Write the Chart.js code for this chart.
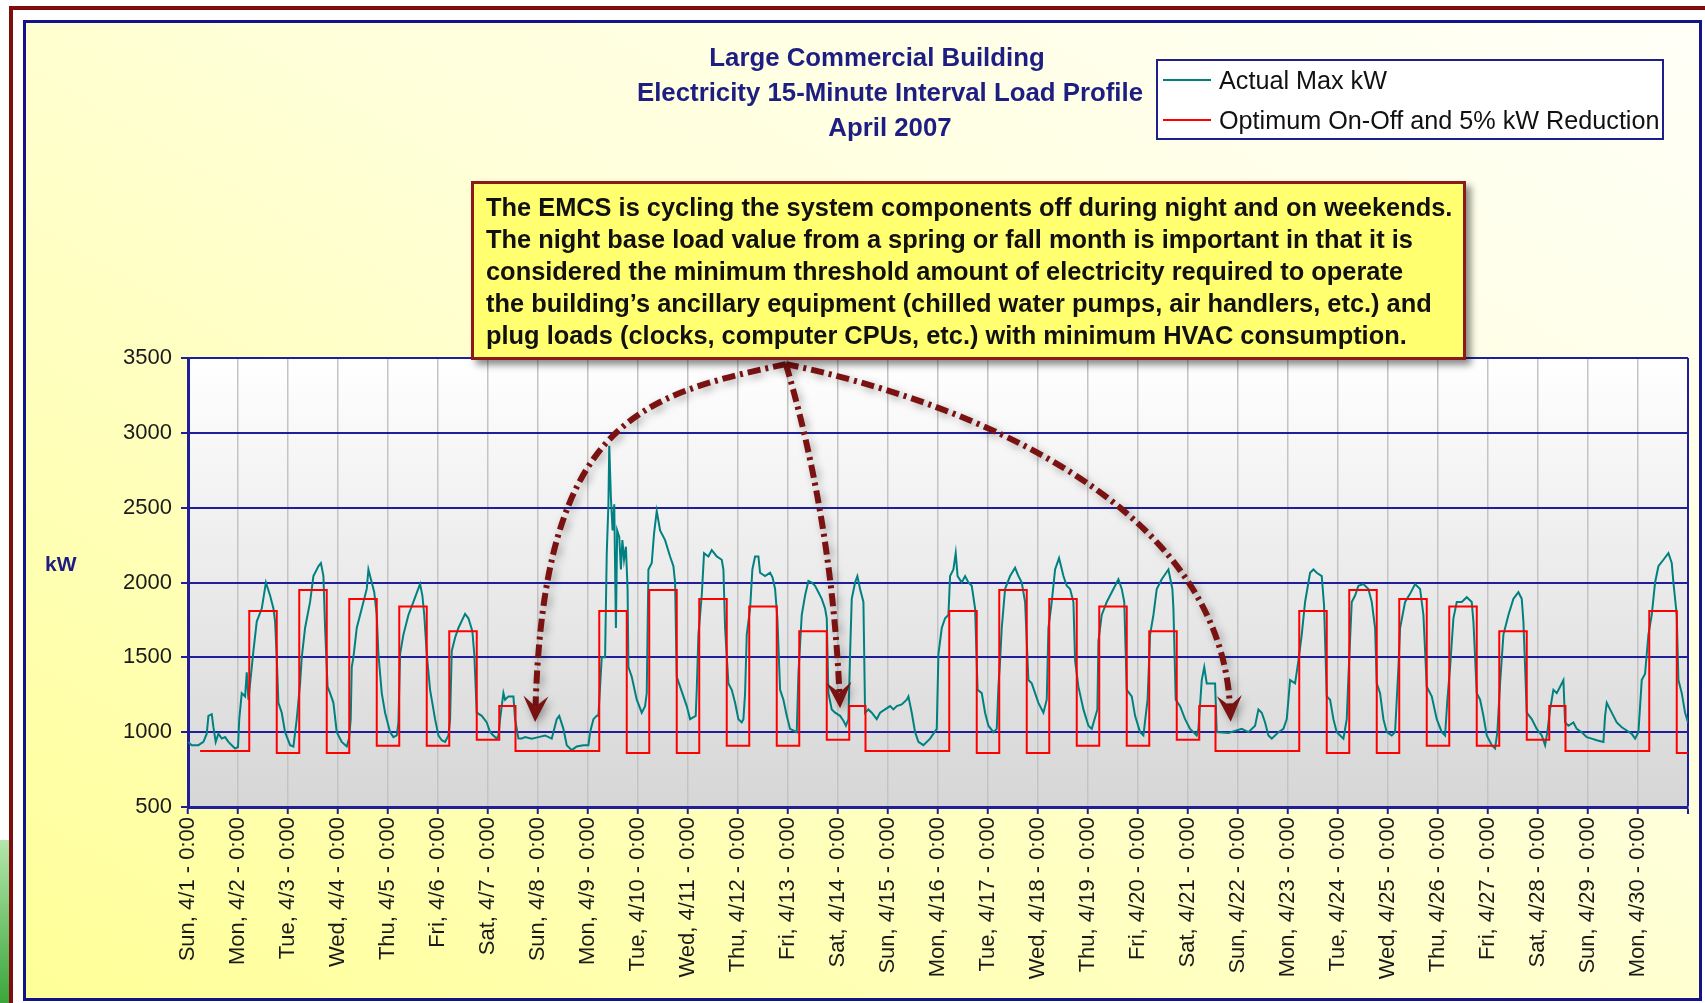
<!DOCTYPE html>
<html>
<head>
<meta charset="utf-8">
<title>Large Commercial Building - Electricity 15-Minute Interval Load Profile</title>
<script src="https://cdn.jsdelivr.net/npm/chart.js@4.4.1/dist/chart.umd.min.js"></script>
<style>
  html, body { margin: 0; padding: 0; background: #fff; }
  body { font-family: "Liberation Sans", Arial, sans-serif; }
  #page { position: relative; width: 1705px; height: 1003px; overflow: hidden; background: #fff; }
  #greenStrip { position: absolute; left: 0; top: 840px; width: 9px; height: 163px; background: linear-gradient(#b4e6ac, #3aa63a); }
  #redFrame { position: absolute; left: 9px; top: 6px; width: 1710px; height: 1010px; border: 4px solid #7f0d0d; }
  #panel { position: absolute; left: 23px; top: 20px; width: 1673px; height: 975px; border: 3px solid #14148a;
           background: linear-gradient(to bottom left, #fffff8 0%, #ffffdc 40%, #ffff98 100%); }
  #chart { position: absolute; left: 0; top: 0; }
  #title { position: absolute; left: 590px; top: 40px; width: 600px; text-align: center; font-weight: bold;
           font-size: 25.8px; line-height: 35px; color: #1e1e82; }
  #title div:first-child { padding-right: 26px; }
  #legend { position: absolute; left: 1156px; top: 59px; width: 504px; height: 77px; border: 2px solid #1e1e8c; background: #fff; }
  #legend .item { position: absolute; left: 5px; height: 30px; display: flex; align-items: center; font-size: 25.2px; color: #111; white-space: nowrap; }
  #legend .swatch { width: 48px; height: 2px; margin-right: 8px; }
  #note { position: absolute; left: 471px; top: 181px; width: 995px; height: 179px; box-sizing: border-box;
          border: 3px solid #8b1a1a; background: #ffff70; box-shadow: 5px 5px 7px rgba(0,0,0,0.45);
          padding: 7px 0 0 12px; font-weight: bold; font-size: 25.4px; line-height: 32px; color: #111; }
  #note div { white-space: nowrap; }
  #yTitle { position: absolute; left: 45px; top: 552px; font-weight: bold; font-size: 21px; color: #1e1e82; }
</style>
</head>
<body>
<div id="page">
  <div id="greenStrip"></div>
  <div id="redFrame"></div>
  <div id="panel"></div>
  <canvas id="chart" width="1705" height="1003"></canvas>
  <div id="title"></div>
  <div id="legend"></div>
  <div id="note"></div>
  <div id="yTitle"></div>
</div>
<script>
// --- Text ---
const titleLines = ["Large Commercial Building", "Electricity 15-Minute Interval Load Profile", "April 2007"];
const seriesNames = ["Actual Max kW", "Optimum On-Off and 5% kW Reduction"];
const seriesColors = ["#008080", "#ff0000"];
const yAxisTitle = "kW";
const noteLines = [
  "The EMCS is cycling the system components off during night and on weekends.",
  "The night base load value from a spring or fall month is important in that it is",
  "considered the minimum threshold amount of electricity required to operate",
  "the building\u2019s ancillary equipment (chilled water pumps, air handlers, etc.) and",
  "plug loads (clocks, computer CPUs, etc.) with minimum HVAC consumption."
];

// --- Axis ticks (hours since Sun 4/1 0:00) ---
const tickHours = [0, 24, 48, 72, 96, 120, 144, 168, 192, 216, 240, 264, 288, 312, 336, 360,
  384, 408, 432, 456, 480, 504, 528, 552, 576, 600, 624, 648, 672, 696, 720];
const dayLabels = [
  "Sun, 4/1 - 0:00", "Mon, 4/2 - 0:00", "Tue, 4/3 - 0:00", "Wed, 4/4 - 0:00", "Thu, 4/5 - 0:00",
  "Fri, 4/6 - 0:00", "Sat, 4/7 - 0:00", "Sun, 4/8 - 0:00", "Mon, 4/9 - 0:00", "Tue, 4/10 - 0:00",
  "Wed, 4/11 - 0:00", "Thu, 4/12 - 0:00", "Fri, 4/13 - 0:00", "Sat, 4/14 - 0:00", "Sun, 4/15 - 0:00",
  "Mon, 4/16 - 0:00", "Tue, 4/17 - 0:00", "Wed, 4/18 - 0:00", "Thu, 4/19 - 0:00", "Fri, 4/20 - 0:00",
  "Sat, 4/21 - 0:00", "Sun, 4/22 - 0:00", "Mon, 4/23 - 0:00", "Tue, 4/24 - 0:00", "Wed, 4/25 - 0:00",
  "Thu, 4/26 - 0:00", "Fri, 4/27 - 0:00", "Sat, 4/28 - 0:00", "Sun, 4/29 - 0:00", "Mon, 4/30 - 0:00"
];
const yMin = 500, yMax = 3500, yStep = 500;

// --- Actual Max kW ---
const actualHour = [
  0, 1.8, 5, 7.4, 9, 9.8, 11.4, 12.2, 13.3, 14.6, 16.2, 17.8, 19.4, 21, 22.6, 24,
  24.6, 25.8, 27.4, 28.2, 29, 31.4, 33, 35.4, 37.4, 39.4, 41, 41.8, 42.6, 43.4, 45, 46.6, 49, 50.6,
  52.2, 53.8, 54.6, 56.2, 58.6, 60.2, 62.6, 63.8, 65, 65.8, 67, 68.2, 69.8, 71.4, 73.8, 76.2, 77.3,
  78.1, 78.6, 79.4, 81, 83.4, 85.8, 86.6, 88.2, 89.4, 90.6, 91.4, 93, 94.6, 97, 98.6, 100.2, 101,
  101.8, 103.4, 105.8, 108.2, 111.4, 112.5, 113.4, 114.6, 116.2, 118.6, 120.2, 121.8, 123.4, 125, 125.8,
  126.6, 128.2, 129.8, 133, 134.6, 136.5, 137.4, 138.6, 141, 143.4, 145, 146.6, 148.2, 149,
  149.8, 151.4, 152.2, 153.8, 156.2, 157, 158.6, 160.2, 161.8, 165, 168.2, 171.4, 174.6, 177, 178.2,
  180.2, 181.8, 184.2, 186.6, 189.8, 192.2, 193, 194.6, 196.2, 197,
  197.8, 198.6, 200.2, 201, 201.8, 202.2, 203, 203.8, 204.6, 205.4, 206, 207, 207.8, 208.5, 209.3, 210.2,
  211, 211.4, 213, 215.4, 217.8, 219.4, 220.2,
  221, 222.6, 223.7, 225, 226.6, 229, 231.4, 233, 233.8, 234.6, 236.2, 237.8, 239.4, 241, 243.7, 244.2,
  245, 246.6, 247.7, 249.8, 251.4, 253.8, 256.2, 257, 257.8, 259.4, 261, 262.6, 264.2, 265.8, 266.6, 267.4,
  268.2, 269.8, 270.9, 272.2, 273.8, 274.6, 277, 279.4, 280.6, 281.8, 282.9, 284.2, 285.8, 287.4, 289, 292.2,
  293, 294.6, 296.2, 297.8, 299.4, 301, 302.6, 304.2, 305.8, 306.6, 307.4, 309, 310.6, 313, 314.6, 315.8, 317,
  317.8, 318.6, 320.2, 321.3, 322.6, 324.2, 325, 326.6, 328.2, 330.6, 332.2, 334.6, 337, 338.6, 340.2, 342.6,
  345, 345.8, 347.4,
  349, 350.6, 353, 356.2, 359.4,
  360.2, 361.8, 363.4, 365, 365.8, 367.4, 368.5, 369.4, 371.4, 373, 374.6, 376.2, 377.8, 379, 381, 382.6,
  384.2, 386.6, 388.2,
  389, 389.8, 390.6, 392.2, 394.6, 397, 398.6, 400.2, 401.8, 403.4, 405, 406.6, 408.2, 410.6, 412.2,
  413, 414.6, 416.2, 418.1, 420.2, 421.8, 423.4, 425, 425.8, 427.4, 429.8, 432.2, 433.8, 436.5,
  437, 438.6, 441, 443.4, 446.6, 448.2, 449.4, 450.6, 453, 454.6, 457, 458.6, 460.6,
  461.8, 463.4, 465, 467.4, 470.6, 472.5, 473, 474.1, 476.2, 478.6, 481, 484.2, 485,
  486.6, 487.8, 489, 493, 493.8, 499.4,
  505.8, 509, 512.2, 513.8, 515.4, 517, 518.6, 520.2, 523.4, 525.8, 527.4,
  529, 531.4, 533, 534.6, 536.2, 538.6, 540.2, 541.8, 544.2, 545.3, 546.6, 548.2, 549.8, 551.4, 554.6, 556.2,
  557, 558.6, 560.2, 561.8, 564.2, 566.6, 568.2, 569.8, 570.6, 572.2, 573.8, 575.4, 577.8, 579.4,
  580.2, 581, 581.8, 584.2, 586.6, 589, 591.4, 593, 594.6, 597, 599.4, 601.8, 603.4,
  604.5, 605.8, 607.4, 609, 611.4, 613.8, 616.2, 617, 618.6, 620.2, 621.8, 623.4, 625.8, 627.4,
  628.5, 629.8, 631.4, 633.8, 636.2, 638.6, 640.2, 641, 642.6, 645, 647.4, 649.8, 651.4,
  652.5, 653.8, 655.4, 657, 658.6, 660.2, 661, 662.6, 665, 666.6, 669, 671.4,
  673.8, 676.2, 679.4, 680.2, 681, 682.6, 684.2, 685.8, 688.2, 690.6, 693, 694.6, 696.2,
  697.8, 699.4, 701, 702.6, 704.2, 705.8, 708.2, 710.6, 712.2, 713, 714.6, 715.4, 717, 718.6, 720
];
const actualKw = [
  935, 913, 913, 935, 990, 1109, 1120, 1033, 935, 990, 957, 967, 935, 913, 891, 900,
  1087, 1261, 1239, 1400, 1217, 1543, 1739, 1826, 2000, 1913, 1826, 1739, 1500, 1196, 1130, 1000, 913, 904,
  1087, 1326, 1500, 1696, 1870, 2043, 2109, 2130, 2043, 1696, 1304, 1261, 1196, 1000, 935, 904, 957,
  1087, 1435, 1500, 1696, 1826, 1957, 2087, 2000, 1935, 1783, 1522, 1261, 1130, 1000, 967, 978, 1065,
  1522, 1652, 1783, 1870, 1990, 1913, 1783, 1522, 1283, 1087, 978, 946, 935, 978, 1087,
  1543, 1631, 1696, 1790, 1761, 1674, 1522, 1130, 1109, 1065, 1000, 978, 957, 978,
  1087, 1261, 1217, 1239, 1239, 1087, 957, 957, 967, 957, 967, 978, 957, 1087, 1109,
  1022, 913, 880, 904, 913, 913, 1000, 1087, 1109, 1109,
  1304, 1500, 1500, 2196, 2522, 2913, 2565, 2348, 2522, 1696, 2348, 2304, 2087, 2283, 2152, 2239,
  1957, 1435, 1370, 1217, 1130, 1174, 1261,
  2087, 2130, 2326, 2478, 2348, 2283, 2174, 2109, 2000, 1370, 1304, 1239, 1174, 1087, 1109, 1283,
  1652, 1913, 2196, 2174, 2217, 2174, 2152, 2087, 1696, 1326, 1283, 1196, 1087, 1065, 1087, 1261,
  1652, 1826, 2087, 2174, 2174, 2065, 2043, 2065, 2033, 1957, 1761, 1283, 1217, 1109, 1022, 1000,
  1391, 1783, 1913, 2011, 2000, 1978, 1935, 1891, 1826, 1761, 1261, 1152, 1130, 1109, 1076, 1043, 1087,
  1522, 1891, 2000, 2043, 1957, 1870, 1130, 1152, 1130, 1087, 1130, 1152, 1174, 1152, 1174, 1185,
  1217, 1239, 1130,
  1000, 935, 913, 957, 1022,
  1522, 1696, 1761, 1783, 2043, 2087, 2196, 2043, 2000, 2043, 2000, 1978, 1826, 1283, 1261, 1130,
  1043, 1000, 1022,
  1304, 1478, 1696, 1957, 2043, 2098, 2043, 2000, 1870, 1348, 1326, 1261, 1196, 1130, 1217,
  1696, 1870, 2087, 2163, 2043, 1978, 1957, 1870, 1478, 1304, 1152, 1043, 1022, 1152,
  1609, 1783, 1870, 1935, 2022, 1957, 1870, 1283, 1239, 1109, 1000, 978, 1217,
  1652, 1783, 1957, 2022, 2087, 1957, 1826, 1217, 1174, 1087, 1022, 978, 1022,
  1348, 1435, 1326, 1326, 1000, 995,
  1022, 1000, 1043, 1152, 1130, 1065, 978, 957, 1000, 1022, 1087,
  1348, 1326, 1478, 1652, 1870, 2065, 2087, 2065, 2043, 1848, 1239, 1217, 1087, 1000, 957, 1087,
  1370, 1870, 1913, 1978, 1989, 1957, 1870, 1696, 1326, 1261, 1087, 1000, 978, 1000,
  1217, 1435, 1696, 1870, 1924, 1989, 1957, 1783, 1304, 1239, 1087, 1000, 978,
  1217, 1435, 1761, 1870, 1870, 1902, 1870, 1739, 1261, 1217, 1109, 978, 913, 891,
  1000, 1326, 1652, 1783, 1891, 1935, 1891, 1739, 1130, 1087, 1022, 978, 913,
  1000, 1152, 1283, 1261, 1304, 1348, 1065, 1043, 1065, 1022, 1000, 967,
  957, 946, 935, 1109, 1196, 1152, 1109, 1065, 1033, 1011, 989, 957, 1000,
  1348, 1391, 1652, 1783, 2000, 2109, 2152, 2196, 2130, 2000, 1783, 1348, 1261, 1130, 1065
];

// --- Optimum On-Off and 5% kW Reduction: level that starts at each hour ---
const optimumHour = [
  5.8, 29.4, 42.6, 53.4, 66.6, 77.4, 90.6, 101.4, 114.6, 125.4, 138.6, 149.4, 157.2,
  197.4, 210.6, 221.4, 234.6, 245.4, 258.6, 269.4, 282.6, 293.4, 306.6, 317.4, 325.2,
  365.4, 378.6, 389.4, 402.6, 413.4, 426.6, 437.4, 450.6, 461.4, 474.6, 485.4, 493.2,
  533.4, 546.6, 557.4, 570.6, 581.4, 594.6, 605.4, 618.6, 629.4, 642.6, 653.4, 661.2,
  701.4, 714.6, 720
];
const optimumKw = [
  875, 1810, 860, 1950, 860, 1890, 910, 1840, 910, 1675, 950, 1175, 875,
  1810, 860, 1950, 860, 1890, 910, 1840, 910, 1675, 950, 1175, 875,
  1810, 860, 1950, 860, 1890, 910, 1840, 910, 1675, 950, 1175, 875,
  1810, 860, 1950, 860, 1890, 910, 1840, 910, 1675, 950, 1175, 875,
  1810, 860, 860
];

// --- Callout arrows, in chart units [hour, kW]: start, control point(s), tip ---
const arrowCurves = [
  [[287, 3459], [217, 3252], [171, 3085], [166.6, 1068]],
  [[287, 3459], [309, 2417], [313, 1160]],
  [[287, 3459], [370.6, 3219], [495, 2551], [500.5, 1070]]
];

const navy = "#1f1f9a";
const tickFamily = "'Liberation Sans', Arial, sans-serif";

// --- HTML text parts ---
document.getElementById("title").innerHTML = titleLines.map(t => `<div>${t}</div>`).join("");
document.getElementById("yTitle").textContent = yAxisTitle;
document.getElementById("note").innerHTML = noteLines.map(t => `<div>${t}</div>`).join("");
document.getElementById("legend").innerHTML = seriesNames.map((name, i) =>
  `<div class="item" style="top:${i === 0 ? 4 : 44}px"><span class="swatch" style="background:${seriesColors[i]}"></span>${name}</div>`
).join("");

// plot area: white to light grey
const plotBackground = {
  id: "plotBackground",
  beforeDraw(chart) {
    const { ctx, chartArea: a } = chart;
    const g = ctx.createLinearGradient(0, a.top, 0, a.bottom);
    g.addColorStop(0, "#ffffff");
    g.addColorStop(1, "#d6d6d6");
    ctx.save();
    ctx.fillStyle = g;
    ctx.fillRect(a.left, a.top, a.right - a.left, a.bottom - a.top);
    ctx.restore();
  }
};

// dash-dot arrows from the callout to the night base loads
const noteArrows = {
  id: "noteArrows",
  afterDraw(chart) {
    const { ctx, scales: { x, y } } = chart;
    const dash = [13, 5, 3, 5];
    ctx.save();
    ctx.strokeStyle = "#7a1212";
    ctx.fillStyle = "#7a1212";
    ctx.lineWidth = 6;
    ctx.shadowColor = "rgba(0,0,0,0.35)";
    ctx.shadowBlur = 8;
    ctx.shadowOffsetX = 3;
    ctx.shadowOffsetY = 3;
    arrowCurves.forEach(curve => {
      const pts = curve.map(p => [x.getPixelForValue(p[0]), y.getPixelForValue(p[1])]);
      const tip = pts[pts.length - 1];
      const prev = pts[pts.length - 2];
      let dx = tip[0] - prev[0], dy = tip[1] - prev[1];
      const len = Math.hypot(dx, dy);
      dx /= len; dy /= len;
      const headLen = 26, headW = 25;
      const neck = [tip[0] - dx * headLen * 0.6, tip[1] - dy * headLen * 0.6];
      ctx.setLineDash(dash);
      ctx.beginPath();
      ctx.moveTo(pts[0][0], pts[0][1]);
      if (pts.length === 4) {
        ctx.bezierCurveTo(pts[1][0], pts[1][1], pts[2][0], pts[2][1], neck[0], neck[1]);
      } else {
        ctx.quadraticCurveTo(pts[1][0], pts[1][1], neck[0], neck[1]);
      }
      ctx.stroke();
      ctx.setLineDash([]);
      const bx = tip[0] - dx * headLen, by = tip[1] - dy * headLen;
      ctx.beginPath();
      ctx.moveTo(tip[0], tip[1]);
      ctx.lineTo(bx - dy * headW / 2, by + dx * headW / 2);
      ctx.lineTo(neck[0], neck[1]);
      ctx.lineTo(bx + dy * headW / 2, by - dx * headW / 2);
      ctx.closePath();
      ctx.fill();
    });
    ctx.restore();
  }
};

new Chart(document.getElementById("chart"), {
  type: "line",
  data: {
    datasets: [
      {
        label: seriesNames[0],
        data: actualHour.map((h, i) => ({ x: h, y: actualKw[i] })),
        borderColor: seriesColors[0],
        borderWidth: 2,
        pointRadius: 0,
        tension: 0,
        order: 2
      },
      {
        label: seriesNames[1],
        data: optimumHour.map((h, i) => ({ x: h, y: optimumKw[i] })),
        borderColor: seriesColors[1],
        borderWidth: 2,
        pointRadius: 0,
        stepped: true,
        order: 1
      }
    ]
  },
  options: {
    responsive: false,
    animation: false,
    layout: { padding: { left: 0, right: 17, top: 358, bottom: 0 } },
    plugins: { legend: { display: false }, tooltip: { enabled: false }, title: { display: false } },
    scales: {
      x: {
        type: "linear",
        min: 0,
        max: 720,
        afterBuildTicks: scale => { scale.ticks = tickHours.map(v => ({ value: v })); },
        afterFit: scale => {
          scale.height = 196;
          scale.paddingLeft = 0;
          scale.paddingRight = 0;
        },
        ticks: {
          autoSkip: false,
          minRotation: 90,
          maxRotation: 90,
          padding: 3,
          color: "#1a1a1a",
          font: { family: tickFamily, size: 22 },
          callback: value => dayLabels[tickHours.indexOf(value)] || ""
        },
        grid: {
          color: c => (c.tick && c.tick.value === 720 ? navy : "#c4c4c4"),
          lineWidth: c => (c.tick && c.tick.value === 720 ? 2 : 1.5),
          tickColor: navy,
          tickLength: 7,
          tickWidth: 2
        },
        border: { color: navy, width: 3 }
      },
      y: {
        min: yMin,
        max: yMax,
        afterFit: scale => { scale.width = 188; },
        ticks: {
          stepSize: yStep,
          padding: 9,
          color: "#1a1a1a",
          font: { family: tickFamily, size: 22 },
          callback: v => String(v)
        },
        grid: { color: navy, lineWidth: 2, tickColor: navy, tickLength: 7, tickWidth: 2 },
        border: { color: navy, width: 3 }
      }
    }
  },
  plugins: [plotBackground, noteArrows]
});
</script>
</body>
</html>
